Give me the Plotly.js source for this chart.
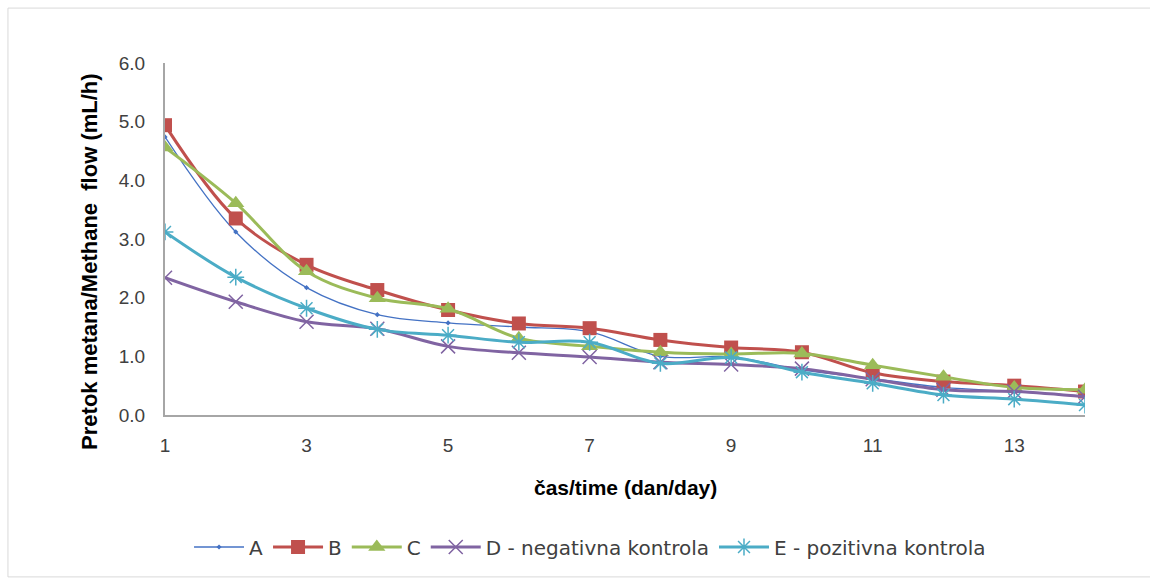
<!DOCTYPE html>
<html>
<head>
<meta charset="utf-8">
<script src="https://cdn.plot.ly/plotly-3.0.1.min.js"></script>
<style>html,body{margin:0;padding:0;background:#fff;}#chart{width:1150px;height:578px;}</style>
</head>
<body>
<div id="chart"></div>
<script>
const days = [1,2,3,4,5,6,7,8,9,10,11,12,13,14];
const seriesA = [4.74,3.12,2.17,1.71,1.57,1.50,1.42,1.00,0.99,0.77,0.62,0.47,0.40,0.32];
const seriesB = [4.94,3.35,2.56,2.13,1.79,1.56,1.48,1.28,1.15,1.07,0.72,0.57,0.50,0.40];
const seriesC = [4.56,3.61,2.45,1.99,1.81,1.31,1.17,1.07,1.04,1.05,0.85,0.65,0.47,0.43];
const seriesD = [2.34,1.93,1.59,1.47,1.17,1.06,0.99,0.90,0.86,0.79,0.61,0.43,0.40,0.31];
const seriesE = [3.12,2.35,1.82,1.46,1.36,1.24,1.24,0.88,0.98,0.73,0.54,0.34,0.27,0.17];
const names = ['A','B','C','D - negativna kontrola','E - pozitivna kontrola'];
const yTicks = [0,1,2,3,4,5,6];
const xTicks = [1,3,5,7,9,11,13];
const xTitle = 'čas/time (dan/day)';
const yTitle = 'Pretok metana/Methane  flow (mL/h)';

const font = 'Liberation Sans, Arial, sans-serif';
const legFont = 'DejaVu Sans, Liberation Sans, sans-serif';
function tr(y, name, color, width, sym, size, mlw){
  return {x: days, y: y, name: name, type: 'scatter', mode: 'lines+markers',
    line: {color: color, width: width, shape: 'spline', smoothing: 1},
    marker: {symbol: sym, size: size, color: color, line: {color: color, width: mlw}}};
}
const data = [
  tr(seriesA, names[0], '#4472C4', 1.3, 'diamond', 4, 0),
  tr(seriesB, names[1], '#C0504D', 3, 'square', 14, 0),
  tr(seriesC, names[2], '#9BBB59', 3, 'triangle-up', 15, 0),
  tr(seriesD, names[3], '#8064A2', 3, 'x-thin-open', 14, 1.5),
  tr(seriesE, names[4], '#4BACC6', 3, 'asterisk-open', 14, 1.5)
];
const layout = {
  width: 1150, height: 578,
  margin: {l: 165, r: 65, t: 63, b: 163},
  paper_bgcolor: '#fff', plot_bgcolor: '#fff',
  font: {family: font, size: 16, color: '#404040'},
  showlegend: true,
  legend: {orientation: 'h', x: 0.462, xanchor: 'center', y: -0.375, yanchor: 'middle',
    font: {family: legFont, size: 20, color: '#404040'}, itemwidth: 50, tracegroupgap: 0},
  xaxis: {range: [1, 14], tickvals: xTicks, ticktext: xTicks.map(String), showgrid: false, zeroline: false,
    showline: true, linecolor: '#A6A6A6', linewidth: 2, ticks: '', ticklabelstandoff: 12,
    tickfont: {family: font, size: 19, color: '#404040'}},
  yaxis: {range: [0, 6], tickvals: yTicks, ticktext: yTicks.map(v => v.toFixed(1)), showgrid: false, zeroline: false,
    showline: true, linecolor: '#A6A6A6', linewidth: 2, ticks: '', ticklabelstandoff: 14,
    tickfont: {family: font, size: 19, color: '#404040'}},
  annotations: [
    {text: '<b>' + xTitle + '</b>', xref: 'paper', yref: 'paper', x: 0.5, y: -0.207, xanchor: 'center', yanchor: 'middle',
      showarrow: false, font: {family: font, size: 21, color: '#000'}},
    {text: '<b>' + yTitle + '</b>', xref: 'paper', yref: 'paper', x: -0.0815, y: 0.435, xanchor: 'center', yanchor: 'middle',
      textangle: -90, showarrow: false, font: {family: font, size: 22, color: '#000'}}
  ],
  shapes: [{type: 'rect', xref: 'paper', yref: 'paper', x0: -0.1707, x1: 1.0728, y0: -0.46, y1: 1.156,
    line: {color: '#D9D9D9', width: 1}, fillcolor: 'rgba(0,0,0,0)', layer: 'below'}]
};
Plotly.newPlot('chart', data, layout, {staticPlot: true, displayModeBar: false});
</script>
</body>
</html>
